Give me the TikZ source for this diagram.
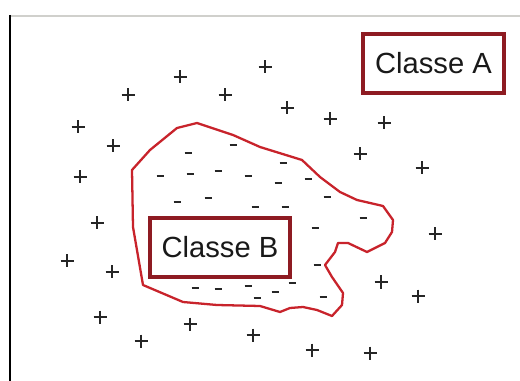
\documentclass[tikz,border=0pt]{standalone}
\usepackage{fontspec}
\setmainfont{Liberation Sans}
\definecolor{classline}{HTML}{8E1B22}
\definecolor{regionline}{HTML}{C8232B}
\definecolor{frameline}{HTML}{D0D0CC}
\tikzset{
  classbox/.style={
    draw=classline,
    line width=1.8pt,
    fill=white,
    inner sep=0pt,
    text=black!90,
    font=\fontsize{16.6}{18}\selectfont
  },
  plusmark/.style={
    draw=black!85,
    line width=0.9pt
  },
  minusmark/.style={
    draw=black!85,
    line width=1.1pt
  },
  region/.style={
    draw=regionline,
    line width=1.3pt,
    line join=round
  }
}

\begin{document}
\begin{tikzpicture}[x=0.02cm, y=-0.02cm]

\useasboundingbox[fill=white] (0,0) rectangle (520,381);

% frame
\draw[frameline, line width=1.3pt] (10,16) -- (520,16);
\draw[black, line width=1.7pt] (10,15) -- (10,381);

% class B region
\draw[region] (197,123) -- (233,135) -- (260,147) -- (302,160) -- (320,177)
  -- (340,192) -- (357,200) -- (383,206) -- (393,220) -- (392,232)
  -- (385,243) -- (367,252) -- (348,243) -- (338,243) -- (335,252)
  -- (325,265) -- (332,277) -- (343,293) -- (342,305) -- (332,316)
  -- (317,310) -- (303,307) -- (290,308) -- (280,312) -- (260,306)
  -- (217,305) -- (183,302) -- (143,285) -- (133,227) -- (132,170)
  -- (150,150) -- (177,128) -- cycle;

% positives
\foreach \x/\y in {180/77, 265/67, 128/95, 225/95, 287/108, 330/119,
  384/123, 78/127, 113/146, 360/154, 422/168, 80/177, 97/223, 435/234,
  67/261, 112/272, 381/282, 418/296, 100/317, 190/324, 253/335,
  141/341, 312/350, 370/353}
  \draw[plusmark] (\x,\y) +(-6.5,0) -- +(6.5,0) +(0,-6.5) -- +(0,6.5);

% negatives
\foreach \x/\y in {188/153, 233/145, 283/163, 160/176, 190/174, 218/171,
  248/176, 278/183, 308/179, 177/202, 208/198, 255/207, 285/207,
  327/197, 363/218, 315/228, 317/265, 280/274, 292/283, 195/288,
  218/289, 248/286, 275/292, 257/298, 323/297}
  \draw[minusmark] (\x,\y) +(-3.5,0) -- +(3.5,0);

% labels
\node[classbox, minimum width=2.82cm, minimum height=1.18cm] (classA)
  at (433.5,63.5) {Classe A};
\node[classbox, minimum width=2.8cm, minimum height=1.18cm] (classB)
  at (220,247.5) {Classe B};

\end{tikzpicture}
\end{document}
